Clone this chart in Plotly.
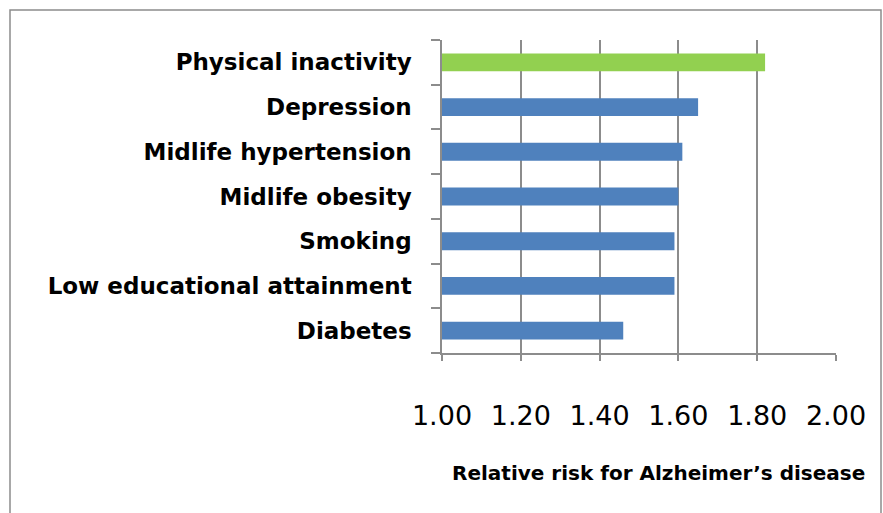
import plotly.graph_objects as go

categories = ["Physical inactivity", "Depression", "Midlife hypertension",
              "Midlife obesity", "Smoking", "Low educational attainment", "Diabetes"]
relative_risk = [1.82, 1.65, 1.61, 1.60, 1.59, 1.59, 1.46]
bar_colors = ["#92D050", "#4F81BD", "#4F81BD", "#4F81BD", "#4F81BD", "#4F81BD", "#4F81BD"]
x_ticks = [1.0, 1.2, 1.4, 1.6, 1.8, 2.0]
x_title = "Relative risk for Alzheimer’s disease"

W, H = 883, 513
L, R, T, B = 442, 47, 40, 160
pw, ph = W - L - R, H - T - B
FONT = "DejaVu Sans, sans-serif"

fig = go.Figure(go.Bar(
    x=relative_risk, y=categories, orientation="h",
    marker=dict(color=bar_colors, line=dict(width=0)),
))

fig.update_layout(
    width=W, height=H,
    margin=dict(l=L, r=R, t=T, b=B),
    paper_bgcolor="white", plot_bgcolor="white",
    bargap=0.6, showlegend=False,
    font=dict(family=FONT, color="black"),
    xaxis=dict(range=[1, 2], tickvals=x_ticks, tickformat=".2f",
               showgrid=True, gridcolor="#8C8C8C", gridwidth=1.5,
               showline=True, linecolor="#8C8C8C", linewidth=1.5,
               ticks="outside", ticklen=6, tickcolor="#8C8C8C", tickwidth=1.5,
               tickfont=dict(size=27, color="black", family=FONT), ticklabelstandoff=32,
               zeroline=False, fixedrange=True),
    yaxis=dict(type="category", categoryorder="array", categoryarray=categories[::-1],
               tickson="boundaries", ticks="outside", ticklen=9,
               tickcolor="#8C8C8C", tickwidth=1.5,
               showline=True, linecolor="#8C8C8C", linewidth=1.5,
               showgrid=False, ticklabelstandoff=24,
               tickfont=dict(size=23, color="black", family=FONT, weight="bold"),
               fixedrange=True),
)

fig.add_annotation(
    text="<b>" + x_title + "</b>", xref="paper", yref="paper",
    x=(658 - L) / pw, y=-(473 - (T + ph)) / ph, xanchor="center", yanchor="middle",
    showarrow=False, font=dict(size=20, color="black", family=FONT),
)

fig.add_shape(type="rect", xref="paper", yref="paper",
              x0=(10 - L) / pw, x1=(881 - L) / pw,
              y0=-(520 - (T + ph)) / ph, y1=1 + (T - 10) / ph,
              line=dict(color="#8C8C8C", width=1.5), layer="below")

fig.write_html("out.html")
